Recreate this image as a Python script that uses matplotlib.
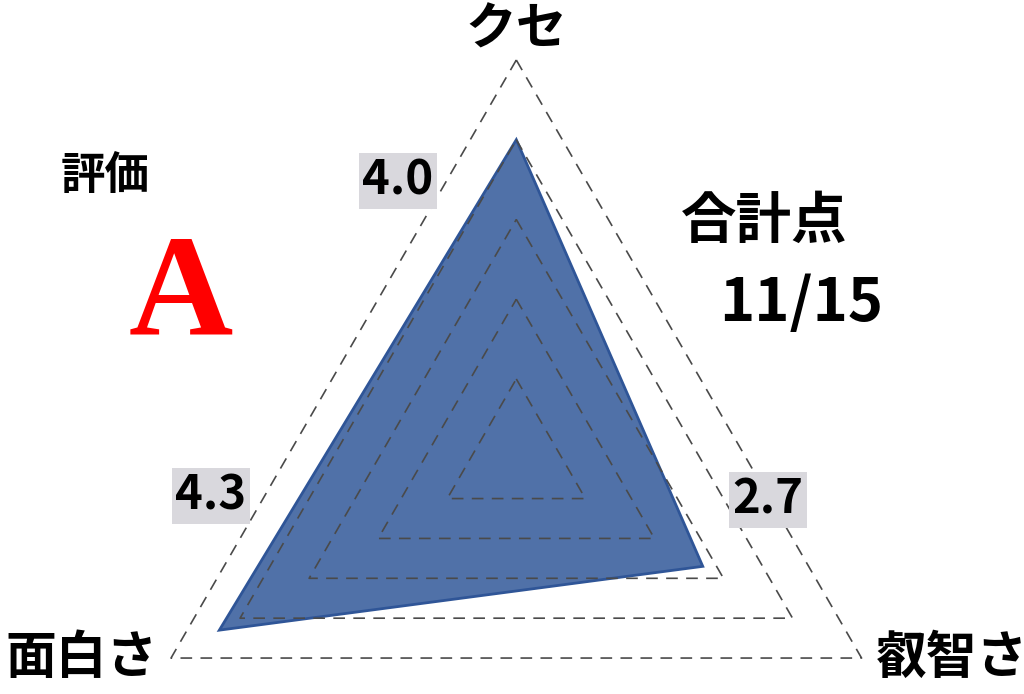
import numpy as np
import matplotlib
matplotlib.use("Agg")
import matplotlib.pyplot as plt

plt.rcParams['font.family'] = ['Noto Sans CJK JP', 'DejaVu Sans']

categories = ["クセ", "叡智さ", "面白さ"]
values = [4.0, 2.7, 4.3]
max_value = 5
grid_levels = [1, 2, 3, 4, 5]
value_labels = ["4.0", "2.7", "4.3"]
rating_title = "評価"
rating = "A"
total_title = "合計点"
total_text = "11/15"

W, H = 1024, 694
cx, cy = 516.3, 458.7          # centre in pixels (from top-left)
unit = 398.7 / max_value       # pixels per value unit

fig = plt.figure(figsize=(W / 100, H / 100), dpi=100)
ax = fig.add_axes([0, 0, 1, 1])
ax.set_xlim(-cx / unit, (W - cx) / unit)
ax.set_ylim(-(H - cy) / unit, cy / unit)
ax.axis("off")

angles = np.deg2rad([90, -30, 210])


def to_xy(r):
    r = np.asarray(r, dtype=float)
    return r * np.cos(angles), r * np.sin(angles)


def px(x, y):
    return (x - cx) / unit, (cy - y) / unit


# data polygon
dx, dy = to_xy(values)
ax.fill(dx, dy, facecolor="#5071a8", edgecolor="#2f5597", linewidth=2, zorder=2)

# grid triangles
for lvl in grid_levels:
    gx, gy = to_xy([lvl] * 3)
    ax.plot(np.append(gx, gx[0]), np.append(gy, gy[0]), color="#4a4a4a",
            linestyle=(0, (7, 5)), linewidth=1.2, zorder=3)

# category labels
label_pos = [(516, 30), (952, 658), (82, 658)]
for name, (lx, ly) in zip(categories, label_pos):
    ax.text(*px(lx, ly), name, ha="center", va="center", fontsize=36.5,
            fontweight="bold", color="black", zorder=5)

# value labels
val_pos = [(398, 181), (768, 500), (211, 496)]
for txt, (lx, ly) in zip(value_labels, val_pos):
    ax.text(*px(lx, ly), txt, ha="center", va="center", fontsize=34,
            fontweight="bold", color="black",
            bbox=dict(boxstyle="square,pad=0.08", facecolor="#d9d8dd", edgecolor="none"),
            zorder=6)

# rating
ax.text(*px(105, 176), rating_title, ha="center", va="center", fontsize=32,
        fontweight="bold", color="black")
ax.text(*px(181, 300), rating, ha="center", va="center", fontsize=104,
        fontweight="bold", color="#ff0000", family=["Liberation Serif", "DejaVu Serif"])

# total
ax.text(*px(764, 222), total_title, ha="center", va="center", fontsize=40,
        fontweight="bold", color="black")
ax.text(*px(801, 304), total_text, ha="center", va="center", fontsize=43,
        fontweight="bold", color="black")

fig.savefig("out.png", dpi=100, facecolor="white")
